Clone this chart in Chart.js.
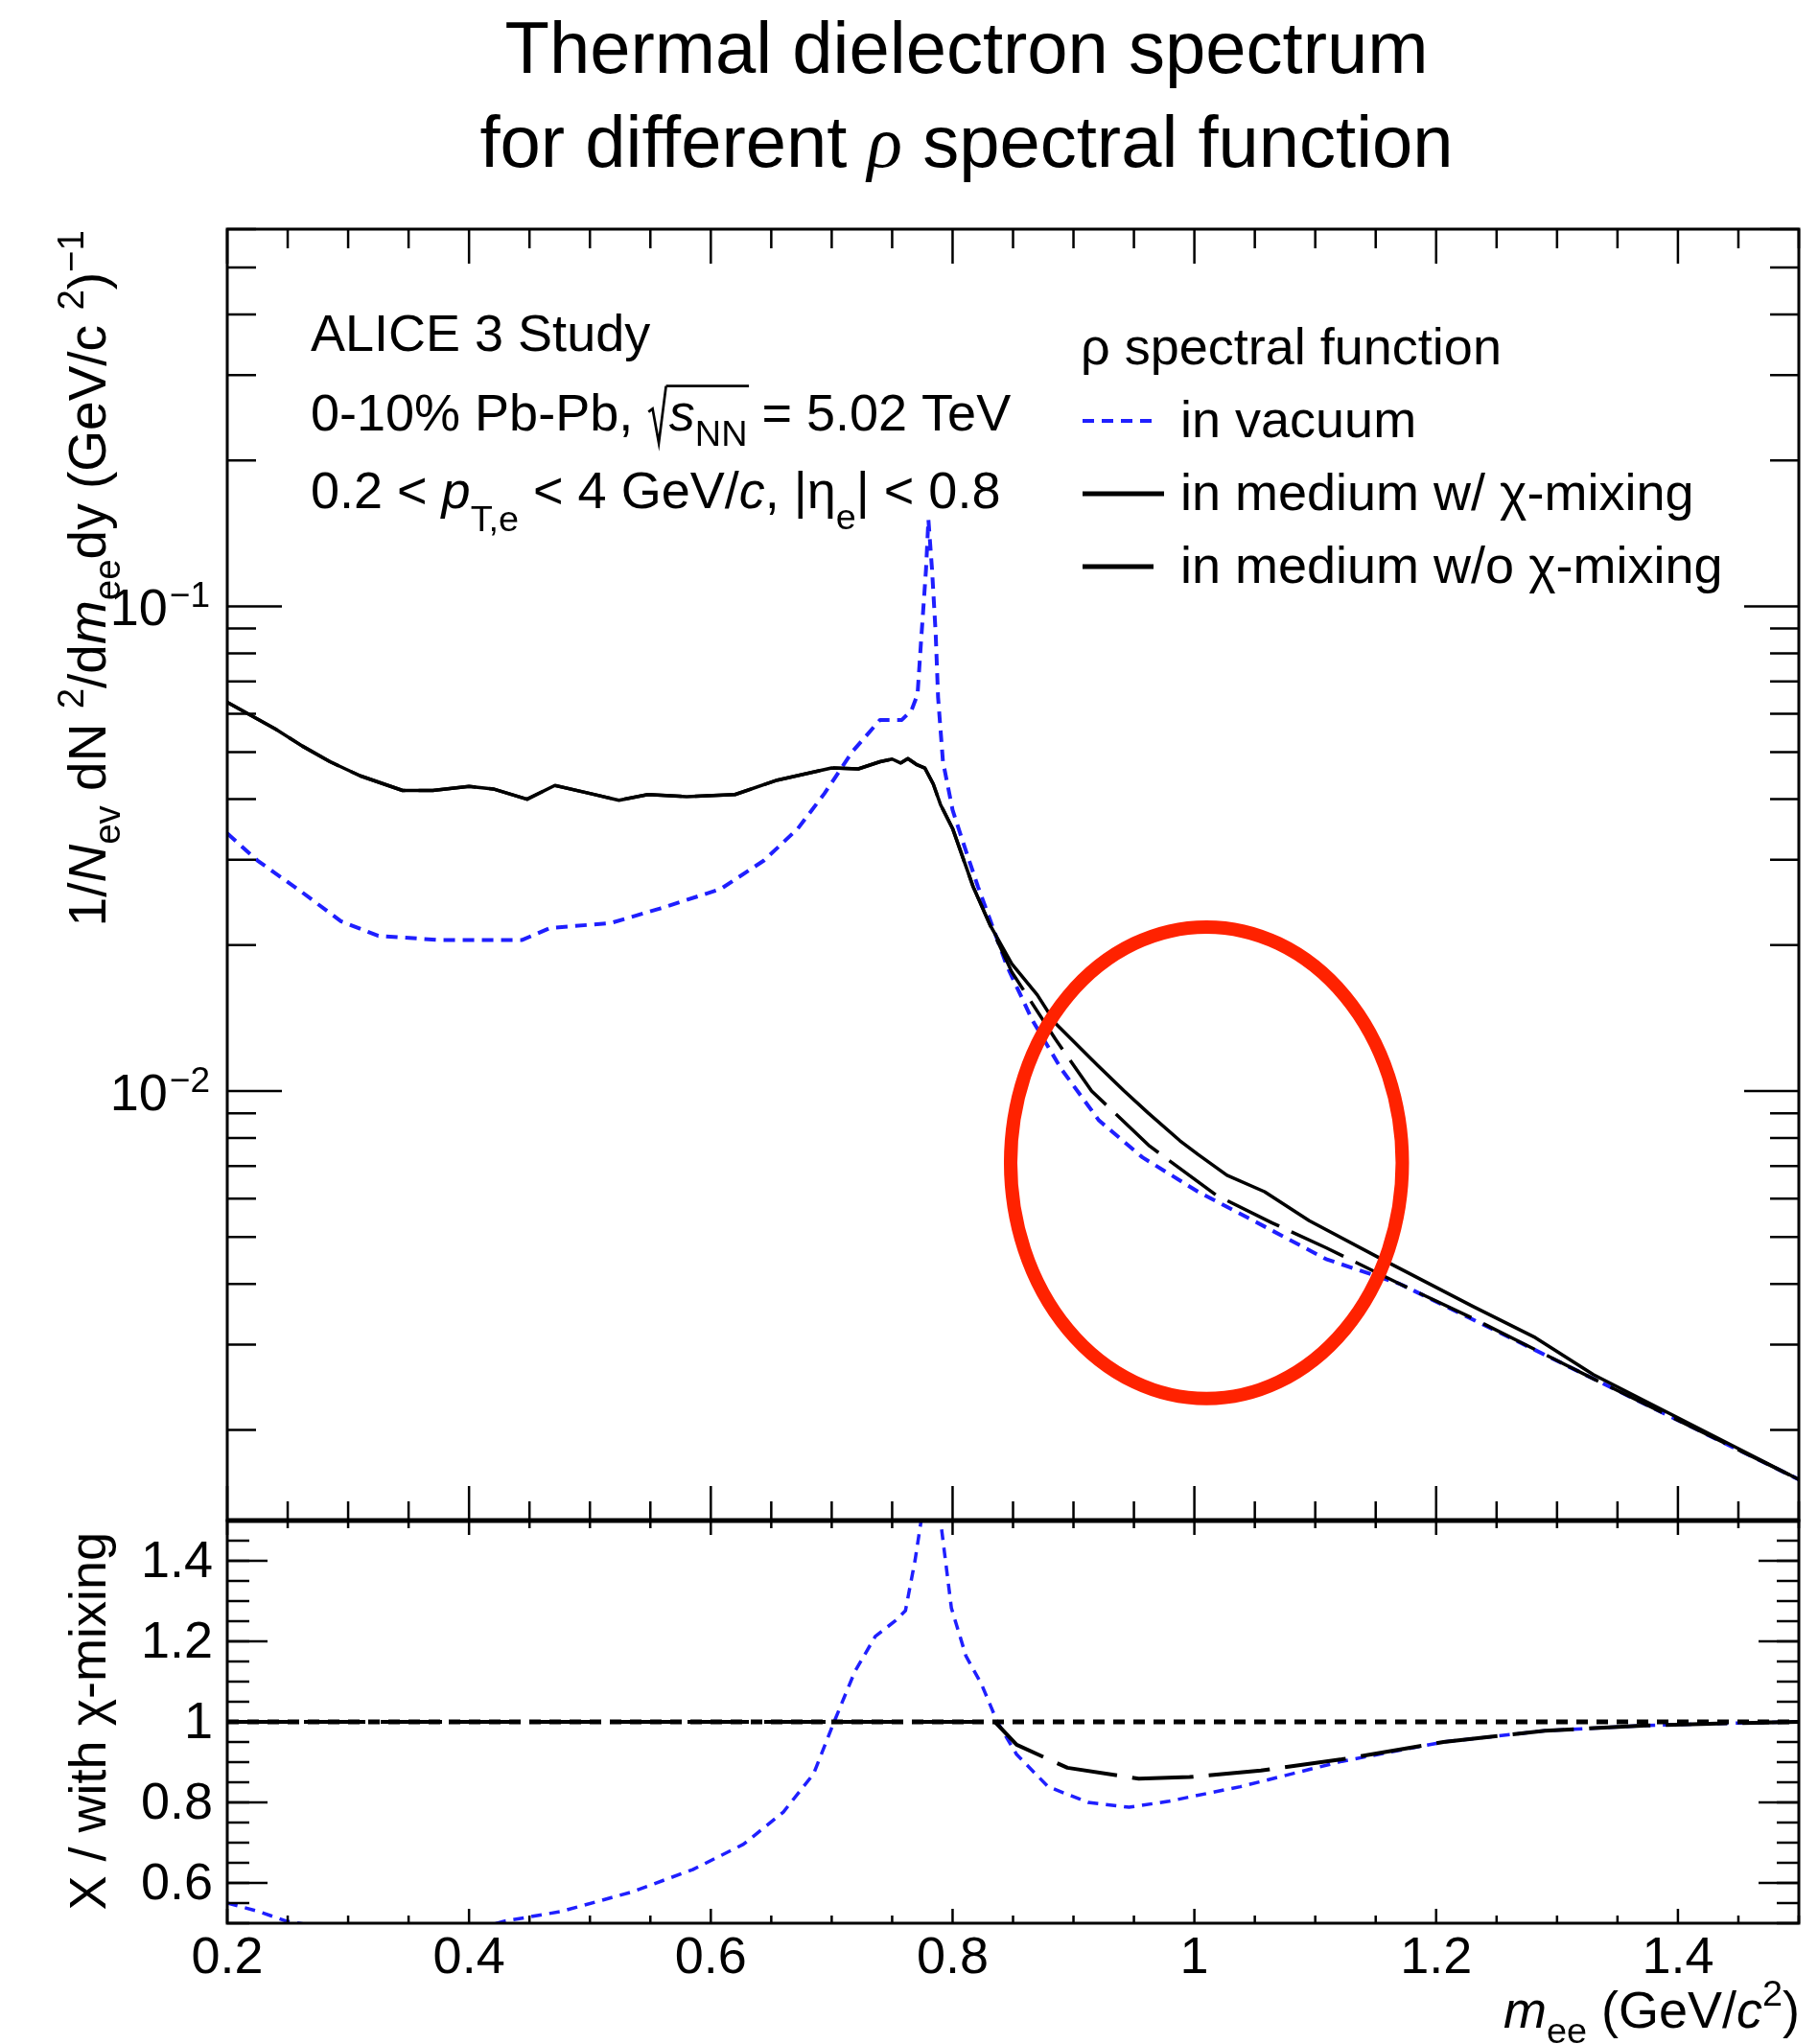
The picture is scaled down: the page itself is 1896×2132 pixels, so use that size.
<!DOCTYPE html>
<html>
<head>
<meta charset="utf-8">
<script src="https://cdn.jsdelivr.net/npm/chart.js@4.4.1/dist/chart.umd.min.js"></script>
<style>
  html, body { margin: 0; padding: 0; background: #fff; }
  #marco { position: relative; width: 1896px; height: 2132px; }
  canvas { position: absolute; left: 0; }
  #graficoEspectro { top: 0; }
  #graficoCociente { top: 1580px; }
</style>
</head>
<body>
<div id="marco">
  <canvas id="graficoEspectro" width="1896" height="1600"></canvas>
  <canvas id="graficoCociente" width="1896" height="552"></canvas>
</div>
<script>
// Espectro con mezcla chi (linea negra continua)
const masaCon = [0.200, 0.220, 0.240, 0.262, 0.285, 0.310, 0.345, 0.370, 0.400, 0.420, 0.448, 0.471, 0.500, 0.524, 0.548, 0.580, 0.620, 0.655, 0.700, 0.722, 0.740, 0.750, 0.757, 0.763, 0.770, 0.777, 0.784, 0.790, 0.800, 0.817, 0.831, 0.849, 0.870, 0.885, 0.920, 0.942, 0.962, 0.988, 1.003, 1.027, 1.058, 1.095, 1.155, 1.230, 1.282, 1.330, 1.500];
const espectroCon = [0.0634, 0.0595, 0.0558, 0.0515, 0.0478, 0.0447, 0.0417, 0.0417, 0.0425, 0.0420, 0.0400, 0.0427, 0.0411, 0.0398, 0.0409, 0.0405, 0.0409, 0.0438, 0.0464, 0.0462, 0.0478, 0.0484, 0.0475, 0.0485, 0.0472, 0.0464, 0.0430, 0.0390, 0.0348, 0.0264, 0.0220, 0.0183, 0.0158, 0.0138, 0.0113, 0.0100, 0.0090, 0.0079, 0.0074, 0.0067, 0.0062, 0.0054, 0.00450, 0.00360, 0.00310, 0.00260, 0.00158];

// Espectro sin mezcla chi (linea negra de trazos largos)
const masaSin = [0.200, 0.220, 0.240, 0.262, 0.285, 0.310, 0.345, 0.370, 0.400, 0.420, 0.448, 0.471, 0.500, 0.524, 0.548, 0.580, 0.620, 0.655, 0.700, 0.722, 0.740, 0.750, 0.757, 0.763, 0.770, 0.777, 0.784, 0.790, 0.800, 0.817, 0.831, 0.849, 0.885, 0.915, 0.963, 1.018, 1.064, 1.109, 1.170, 1.230, 1.330, 1.500];
const espectroSin = [0.0634, 0.0595, 0.0558, 0.0515, 0.0478, 0.0447, 0.0417, 0.0417, 0.0425, 0.0420, 0.0400, 0.0427, 0.0411, 0.0398, 0.0409, 0.0405, 0.0409, 0.0438, 0.0464, 0.0462, 0.0478, 0.0484, 0.0475, 0.0485, 0.0472, 0.0464, 0.0430, 0.0390, 0.0348, 0.0264, 0.0220, 0.0176, 0.0128, 0.0100, 0.0077, 0.0061, 0.00535, 0.00475, 0.0040, 0.0034, 0.00255, 0.00158];

// Espectro en vacio (linea azul discontinua)
const masaVacio = [0.200, 0.225, 0.262, 0.294, 0.325, 0.375, 0.444, 0.467, 0.517, 0.558, 0.608, 0.644, 0.672, 0.694, 0.717, 0.740, 0.758, 0.766, 0.771, 0.774, 0.778, 0.780, 0.783, 0.786, 0.788, 0.792, 0.800, 0.811, 0.821, 0.845, 0.866, 0.890, 0.921, 0.957, 1.003, 1.049, 1.109, 1.170, 1.261, 1.330, 1.500];
const espectroVacio = [0.0340, 0.0299, 0.0257, 0.0224, 0.0209, 0.0205, 0.0205, 0.0217, 0.0222, 0.0238, 0.0261, 0.0299, 0.0348, 0.0411, 0.0501, 0.0583, 0.0583, 0.0610, 0.0658, 0.0853, 0.119, 0.151, 0.119, 0.088, 0.0649, 0.0479, 0.0380, 0.0313, 0.0264, 0.0181, 0.0140, 0.0111, 0.0087, 0.0073, 0.0062, 0.0054, 0.0045, 0.0040, 0.0031, 0.00255, 0.00158];

// Cocientes respecto a "con mezcla chi" (panel inferior)
const masaCocienteCon = [0.2, 1.5];
const cocienteCon = [1.0, 1.0];
const masaCocienteSin = [0.200, 0.835, 0.853, 0.895, 0.954, 0.996, 1.055, 1.122, 1.206, 1.290, 1.374, 1.450, 1.500];
const cocienteSin = [1.0, 1.0, 0.943, 0.886, 0.859, 0.863, 0.879, 0.907, 0.950, 0.978, 0.991, 0.997, 1.0];
const masaCocienteVacio = [0.200, 0.225, 0.249, 0.300, 0.350, 0.400, 0.429, 0.476, 0.534, 0.585, 0.627, 0.660, 0.685, 0.702, 0.719, 0.736, 0.753, 0.761, 0.769, 0.774, 0.781, 0.790, 0.799, 0.811, 0.824, 0.837, 0.853, 0.879, 0.912, 0.946, 0.979, 1.038, 1.122, 1.206, 1.290, 1.374, 1.450, 1.500];
const cocienteVacio = [0.55, 0.53, 0.505, 0.48, 0.47, 0.48, 0.505, 0.529, 0.577, 0.633, 0.696, 0.776, 0.871, 1.0, 1.124, 1.212, 1.252, 1.276, 1.402, 1.5, 3.2, 1.5, 1.283, 1.164, 1.093, 1.0, 0.919, 0.839, 0.800, 0.788, 0.803, 0.839, 0.902, 0.950, 0.978, 0.991, 0.997, 1.0];

// Etiquetas de ejes
const ticksMasa = [0.2, 0.4, 0.6, 0.8, 1.0, 1.2, 1.4];
const etiquetasMasa = ['0.2', '0.4', '0.6', '0.8', '1', '1.2', '1.4'];
const ticksDecada = [0.01, 0.1];
const exponentesDecada = ['\u22122', '\u22121'];
const ticksCociente = [0.6, 0.8, 1.0, 1.2, 1.4];
const etiquetasCociente = ['0.6', '0.8', '1', '1.2', '1.4'];

// Zona resaltada con la elipse roja (unidades de datos)
const zonaResaltada = { xMin: 0.848, xMax: 1.172, yMin: 0.00232, yMax: 0.0218 };

const SANS = '"Liberation Sans", Arial, Helvetica, sans-serif';
const SERIF = '"Liberation Serif", "Times New Roman", serif';
const AZUL = '#1f1fff';

function puntos(xs, ys) {
    return xs.map((x, i) => ({ x: x, y: ys[i] }));
}

function fuente(p, size) {
    const s = (p.sub || p.sup) ? size * 0.7 : size;
    return (p.i ? 'italic ' : '') + s.toFixed(1) + 'px ' + (p.serif ? SERIF : SANS);
}

function anchoRico(c, partes, size) {
    let w = 0;
    partes.forEach(p => {
        if (p.rad) { w += size * 0.42; return; }
        c.font = fuente(p, size);
        w += c.measureText(p.t).width;
    });
    return w;
}

// Texto con subindices, superindices y raiz
function textoRico(c, partes, x, y, size, align) {
    const total = anchoRico(c, partes, size);
    let cx = align === 'right' ? x - total : (align === 'center' ? x - total / 2 : x);
    let inicioBarra = null;
    c.textAlign = 'left';
    c.textBaseline = 'alphabetic';
    c.fillStyle = '#000';
    c.strokeStyle = '#000';
    partes.forEach(p => {
        if (p.rad) {
            c.save();
            c.lineWidth = size * 0.05;
            c.beginPath();
            c.moveTo(cx + 0.02 * size, y - 0.36 * size);
            c.lineTo(cx + 0.10 * size, y - 0.42 * size);
            c.lineTo(cx + 0.22 * size, y + 0.24 * size);
            c.lineTo(cx + 0.36 * size, y - 0.86 * size);
            c.stroke();
            c.restore();
            inicioBarra = cx + 0.36 * size;
            cx += size * 0.42;
            return;
        }
        c.font = fuente(p, size);
        const dy = p.sub ? (p.low || 0.3) * size : (p.sup ? -0.42 * size : 0);
        c.fillText(p.t, cx, y + dy);
        cx += c.measureText(p.t).width;
        if (p.finBarra && inicioBarra !== null) {
            c.save();
            c.lineWidth = size * 0.05;
            c.beginPath();
            c.moveTo(inicioBarra, y - 0.86 * size);
            c.lineTo(cx + 0.03 * size, y - 0.86 * size);
            c.stroke();
            c.restore();
            inicioBarra = null;
        }
    });
    return total;
}

// Marcas hacia dentro en los cuatro lados (estilo ROOT)
function marcasX(c, area, sx, largoMayor, largoMenor) {
    for (let k = 0; k <= 26; k++) {
        const v = 0.2 + k * 0.05;
        const px = sx.getPixelForValue(v);
        const largo = (k % 4 === 0) ? largoMayor : largoMenor;
        c.beginPath();
        c.moveTo(px, area.bottom); c.lineTo(px, area.bottom - largo);
        c.moveTo(px, area.top); c.lineTo(px, area.top + largo);
        c.stroke();
    }
}

function marcasY(c, area, sy, valores, largo) {
    valores.forEach(v => {
        const py = sy.getPixelForValue(v);
        if (py < area.top - 1 || py > area.bottom + 1) return;
        c.beginPath();
        c.moveTo(area.left, py); c.lineTo(area.left + largo, py);
        c.moveTo(area.right, py); c.lineTo(area.right - largo, py);
        c.stroke();
    });
}

const marcoEspectro = {
    id: 'marcoEspectro',
    afterDraw(chart) {
        const c = chart.ctx;
        const area = chart.chartArea;
        const sx = chart.scales.x;
        const sy = chart.scales.y;
        c.save();
        c.strokeStyle = '#000';
        c.lineWidth = 3;
        c.strokeRect(area.left, area.top, area.right - area.left, area.bottom - area.top);
        c.lineWidth = 2.5;
        marcasX(c, area, sx, 36, 20);
        const menores = [];
        [0.001, 0.01, 0.1].forEach(d => { for (let k = 2; k <= 9; k++) menores.push(k * d); });
        marcasY(c, area, sy, ticksDecada, 57);
        marcasY(c, area, sy, menores, 30);

        // etiquetas 10^-n
        ticksDecada.forEach((v, i) => {
            const py = sy.getPixelForValue(v);
            c.font = '37px ' + SANS;
            const wSup = c.measureText(exponentesDecada[i]).width;
            c.fillStyle = '#000';
            c.textAlign = 'left';
            c.textBaseline = 'alphabetic';
            c.fillText(exponentesDecada[i], 219 - wSup, py + 1);
            c.font = '54px ' + SANS;
            c.textAlign = 'right';
            c.fillText('10', 219 - wSup - 2, py + 20);
        });

        // elipse roja
        const ex1 = sx.getPixelForValue(zonaResaltada.xMin);
        const ex2 = sx.getPixelForValue(zonaResaltada.xMax);
        const ey1 = sy.getPixelForValue(zonaResaltada.yMax);
        const ey2 = sy.getPixelForValue(zonaResaltada.yMin);
        c.strokeStyle = '#ff2200';
        c.lineWidth = 14;
        c.beginPath();
        c.ellipse((ex1 + ex2) / 2, (ey1 + ey2) / 2, (ex2 - ex1) / 2, (ey2 - ey1) / 2, 0, 0, Math.PI * 2);
        c.stroke();

        // titulo
        c.fillStyle = '#000';
        c.font = '76px ' + SANS;
        c.textAlign = 'center';
        c.textBaseline = 'alphabetic';
        c.fillText('Thermal dielectron spectrum', 1008, 76);
        textoRico(c, [
            { t: 'for different ' },
            { t: '\u03C1', i: true, serif: true },
            { t: ' spectral function' }
        ], 1008, 174, 76, 'center');

        // titulo del eje Y (girado)
        c.save();
        c.translate(110, 240);
        c.rotate(-Math.PI / 2);
        textoRico(c, [
            { t: '1/' }, { t: 'N', i: true }, { t: 'ev', sub: true, low: 0.28 },
            { t: ' dN ' }, { t: '2', sup: true }, { t: '/d' }, { t: 'm', i: true },
            { t: 'ee', sub: true, low: 0.28 }, { t: 'dy (GeV/c ' }, { t: '2', sup: true },
            { t: ')' }, { t: '\u22121', sup: true }
        ], 0, 0, 55, 'right');
        c.restore();

        // texto del experimento
        const tam = 54;
        textoRico(c, [{ t: 'ALICE 3 Study' }], 324, 366, tam, 'left');
        textoRico(c, [
            { t: '0-10% Pb-Pb, ' }, { rad: true }, { t: 's', i: true },
            { t: 'NN', sub: true, finBarra: true }, { t: ' = 5.02 TeV' }
        ], 324, 449, tam, 'left');
        textoRico(c, [
            { t: '0.2 < ' }, { t: 'p', i: true }, { t: 'T,e', sub: true, low: 0.45 },
            { t: ' < 4 GeV/' }, { t: 'c', i: true }, { t: ', |\u03B7' },
            { t: 'e', sub: true, low: 0.4 }, { t: '| < 0.8' }
        ], 324, 530, tam, 'left');

        // leyenda
        textoRico(c, [{ t: '\u03C1 spectral function' }], 1127, 380, tam, 'left');
        const filas = [
            { txt: 'in vacuum', y: 456, color: AZUL, dash: [12, 8], ancho: 4, fin: 1209 },
            { txt: 'in medium w/ \u03C7-mixing', y: 532, color: '#000', dash: [], ancho: 5, fin: 1214 },
            { txt: 'in medium w/o \u03C7-mixing', y: 608, color: '#000', dash: [], ancho: 5, fin: 1203 }
        ];
        filas.forEach(f => {
            c.save();
            c.strokeStyle = f.color;
            c.lineWidth = f.ancho;
            c.setLineDash(f.dash);
            c.beginPath();
            c.moveTo(1129, f.y - 17);
            c.lineTo(f.fin, f.y - 17);
            c.stroke();
            c.restore();
            textoRico(c, [{ t: f.txt }], 1231, f.y, tam, 'left');
        });
        c.restore();
    }
};

const marcoCociente = {
    id: 'marcoCociente',
    afterDraw(chart) {
        const c = chart.ctx;
        const area = chart.chartArea;
        const sx = chart.scales.x;
        const sy = chart.scales.y;
        c.save();
        c.strokeStyle = '#000';
        c.lineWidth = 3;
        c.strokeRect(area.left, area.top, area.right - area.left, area.bottom - area.top);
        c.lineWidth = 5;
        c.beginPath();
        c.moveTo(area.left, area.top);
        c.lineTo(area.right, area.top);
        c.stroke();
        c.lineWidth = 2.5;
        marcasX(c, area, sx, 15, 8);
        const menores = [];
        for (let k = 0; k <= 20; k++) menores.push(0.5 + k * 0.05);
        marcasY(c, area, sy, ticksCociente, 42);
        marcasY(c, area, sy, menores, 23);

        c.fillStyle = '#000';
        c.font = '54px ' + SANS;
        c.textAlign = 'center';
        c.textBaseline = 'top';
        ticksMasa.forEach((v, i) => {
            c.fillText(etiquetasMasa[i], sx.getPixelForValue(v), area.bottom + 10);
        });
        c.textAlign = 'right';
        c.textBaseline = 'middle';
        ticksCociente.forEach((v, i) => {
            c.fillText(etiquetasCociente[i], 222, sy.getPixelForValue(v) + 2);
        });

        // titulo eje X
        textoRico(c, [
            { t: 'm', i: true }, { t: 'ee', sub: true, low: 0.3 }, { t: ' (GeV/' },
            { t: 'c', i: true }, { t: '2', sup: true }, { t: ')' }
        ], 1877, area.bottom + 109, 54, 'right');

        // titulo eje Y
        c.save();
        c.translate(110, area.top + 12);
        c.rotate(-Math.PI / 2);
        textoRico(c, [{ t: 'X / with \u03C7-mixing' }], 0, 0, 54, 'right');
        c.restore();
        c.restore();
    }
};

const ejeMasa = { type: 'linear', min: 0.2, max: 1.5, display: false };

new Chart(document.getElementById('graficoEspectro').getContext('2d'), {
    type: 'line',
    data: {
        datasets: [
            { label: 'in medium w/ \u03C7-mixing', data: puntos(masaCon, espectroCon), borderColor: '#000', borderWidth: 3.5 },
            { label: 'in medium w/o \u03C7-mixing', data: puntos(masaSin, espectroSin), borderColor: '#000', borderWidth: 3.5, borderDash: [60, 14] },
            { label: 'in vacuum', data: puntos(masaVacio, espectroVacio), borderColor: AZUL, borderWidth: 4, borderDash: [12, 8] }
        ]
    },
    options: {
        responsive: false,
        animation: false,
        devicePixelRatio: 1,
        layout: { padding: { left: 237, right: 20, top: 239, bottom: 14 } },
        elements: { point: { radius: 0 }, line: { tension: 0, borderJoinStyle: 'round' } },
        scales: {
            x: ejeMasa,
            y: { type: 'logarithmic', min: 0.0013, max: 0.6, display: false }
        },
        plugins: { legend: { display: false }, tooltip: { enabled: false } }
    },
    plugins: [marcoEspectro]
});

new Chart(document.getElementById('graficoCociente').getContext('2d'), {
    type: 'line',
    data: {
        datasets: [
            { label: 'w/o / w', data: puntos(masaCocienteSin, cocienteSin), borderColor: '#000', borderWidth: 4, borderDash: [64, 16] },
            { label: 'w / w', data: puntos(masaCocienteCon, cocienteCon), borderColor: '#000', borderWidth: 5, borderDash: [12, 9] },
            { label: 'vacuum / w', data: puntos(masaCocienteVacio, cocienteVacio), borderColor: AZUL, borderWidth: 3.5, borderDash: [11, 8] }
        ]
    },
    options: {
        responsive: false,
        animation: false,
        devicePixelRatio: 1,
        layout: { padding: { left: 237, right: 20, top: 6, bottom: 126 } },
        elements: { point: { radius: 0 }, line: { tension: 0, borderJoinStyle: 'round' } },
        scales: {
            x: ejeMasa,
            y: { type: 'linear', min: 0.5, max: 1.5, display: false }
        },
        plugins: { legend: { display: false }, tooltip: { enabled: false } }
    },
    plugins: [marcoCociente]
});
</script>
</body>
</html>
